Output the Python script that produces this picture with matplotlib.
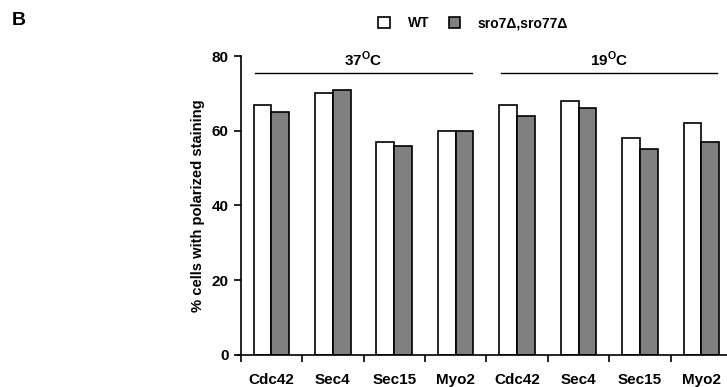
import numpy as np
import matplotlib
matplotlib.use("Agg")
import matplotlib.pyplot as plt
from matplotlib.patches import Patch

plt.rcParams['font.family'] = ['Liberation Sans', 'DejaVu Sans']
plt.rcParams['font.weight'] = 'bold'
plt.rcParams['mathtext.fontset'] = 'custom'
plt.rcParams['mathtext.rm'] = 'Liberation Sans:bold'
plt.rcParams['mathtext.bf'] = 'Liberation Sans:bold'

# data
proteins = ['Cdc42', 'Sec4', 'Sec15', 'Myo2', 'Cdc42', 'Sec4', 'Sec15', 'Myo2']
wt = [67, 70, 57, 60, 67, 68, 58, 62]
mutant = [65, 71, 56, 60, 64, 66, 55, 57]
series_names = ['WT', 'sro7\u0394,sro77\u0394']
temps = ['37', '19']

fig = plt.figure(figsize=(7.27, 3.87), dpi=100)
ax = fig.add_axes([0.331, 0.083, 0.676, 0.772])

x = np.arange(len(proteins)) + 0.5
w = 0.29
ax.bar(x - w / 2, wt, w, color='white', edgecolor='black', linewidth=1.2)
ax.bar(x + w / 2, mutant, w, color='#808080', edgecolor='black', linewidth=1.2)

ax.set_xlim(0, 8)
ax.set_ylim(0, 80)
ax.set_yticks([0, 20, 40, 60, 80])
ax.set_xticks(np.arange(9))
ax.set_xticklabels([])
ax.set_xticks(x, minor=True)
ax.set_xticklabels(proteins, minor=True, fontsize=11, fontweight='bold')
ax.tick_params(axis='x', which='minor', length=0, pad=13)
ax.tick_params(axis='x', which='major', length=5, width=1.2)
ax.tick_params(axis='y', length=5, width=1.2, labelsize=11)
for s in ['top', 'right']:
    ax.spines[s].set_visible(False)
ax.spines['left'].set_linewidth(1.2)
ax.spines['bottom'].set_linewidth(1.2)
ax.spines['bottom'].set_bounds(-0.05, 8)
ax.set_ylabel('% cells with polarized staining', fontsize=10.6, fontweight='bold', labelpad=5)

# temperature group headers
for i, t in enumerate(temps):
    x0 = i * 4 + 0.24
    x1 = i * 4 + 3.76
    ax.plot([x0, x1], [75.5, 75.5], color='black', linewidth=1.0, clip_on=False)
    ax.text(i * 4 + 2, 76.5, r'%s$^{\mathregular{O}}$C' % t, ha='center', va='bottom',
            fontsize=11, fontweight='bold')

handles = [Patch(facecolor='white', edgecolor='black', linewidth=1.2),
           Patch(facecolor='#808080', edgecolor='black', linewidth=1.2)]
fig.legend(handles, series_names, loc='center', bbox_to_anchor=(0.651, 0.94), ncol=2,
           frameon=False, fontsize=10, handlelength=0.8, handleheight=0.8,
           columnspacing=1.4, handletextpad=1.3)

fig.text(0.016, 0.948, 'B', fontsize=14, fontweight='bold', va='center')

plt.savefig('out.png', dpi=100)
